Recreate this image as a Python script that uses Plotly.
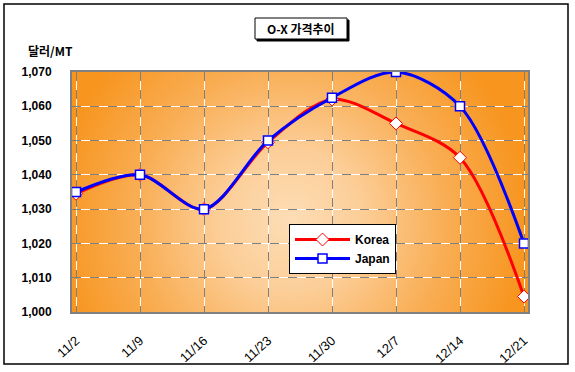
import base64
import plotly.graph_objects as go

categories = ["11/2", "11/9", "11/16", "11/23", "11/30", "12/7", "12/14", "12/21"]
korea = [1034.5, 1040, 1030, 1049.5, 1062, 1055, 1045, 1004.5]
japan = [1035, 1040, 1030, 1050, 1062.5, 1070, 1060, 1020]
y_ticks = [1000, 1010, 1020, 1030, 1040, 1050, 1060, 1070]
y_tick_labels = ["1,000", "1,010", "1,020", "1,030", "1,040", "1,050", "1,060", "1,070"]

W, H = 575, 372
L, R, T, B = 72, 528, 72, 312
PW, PH = R - L, B - T

def px(x):
    return (x - L) / PW

def py(y):
    return (B - y) / PH

svg = f'''<svg xmlns="http://www.w3.org/2000/svg" width="{PW}" height="{PH}" viewBox="0 0 {PW} {PH}" preserveAspectRatio="none">
<defs><radialGradient id="g" gradientUnits="userSpaceOnUse" cx="{PW*0.48}" cy="{PH*0.62}" r="{PW*0.52}">
<stop offset="0" stop-color="#FDDDB6"/><stop offset="0.3" stop-color="#FCCE98"/><stop offset="0.65" stop-color="#F9AE55"/><stop offset="1" stop-color="#F7951F"/>
</radialGradient></defs><rect width="{PW}" height="{PH}" fill="url(#g)"/></svg>'''
bg_src = "data:image/svg+xml;base64," + base64.b64encode(svg.encode()).decode()

x_idx = list(range(len(categories)))
fig = go.Figure()
fig.add_trace(go.Scatter(
    x=x_idx, y=korea, name="Korea", mode="lines+markers",
    line=dict(color="#FF0000", width=3, shape="spline", smoothing=0.9),
    marker=dict(symbol="diamond", size=10, color="white", line=dict(color="#FF0000", width=1)),
))
fig.add_trace(go.Scatter(
    x=x_idx, y=japan, name="Japan", mode="lines+markers",
    line=dict(color="#0000FF", width=3, shape="spline", smoothing=0.9),
    marker=dict(symbol="square", size=9, color="white", line=dict(color="#0000FF", width=1.5)),
))

font_lat = "Liberation Sans, Arial, sans-serif"
font_kr = "Noto Sans CJK KR, sans-serif"

fig.update_layout(
    width=W, height=H,
    margin=dict(l=L, r=W - R, t=T, b=H - B, autoexpand=False),
    paper_bgcolor="white", plot_bgcolor="#F7941E",
    showlegend=True,
    legend=dict(
        x=px(289), y=py(224), xanchor="left", yanchor="top",
        bgcolor="white", bordercolor="black", borderwidth=1,
        font=dict(family=font_lat, size=12, color="black", weight="bold"),
        tracegroupgap=0, itemwidth=55,
    ),
    images=[dict(source=bg_src, xref="paper", yref="paper", x=0, y=1, sizex=1, sizey=1,
                 sizing="stretch", layer="below", xanchor="left", yanchor="top")],
    xaxis=dict(
        tickmode="array", tickvals=x_idx, ticktext=categories,
        range=[-0.0625, 7.0625], tickangle=-42, automargin=False,
        showgrid=True, gridcolor="#7F7F7F", griddash="dash", gridwidth=1,
        minor=dict(tickmode="array", tickvals=x_idx, showgrid=True, gridcolor="white", griddash="solid", gridwidth=1, ticks=""),
        showline=True, linecolor="#808080", linewidth=2, mirror=True,
        ticks="", ticklabelstandoff=14,
        tickfont=dict(family=font_lat, size=13, color="black"),
        zeroline=False,
    ),
    yaxis=dict(
        tickmode="array", tickvals=y_ticks, ticktext=y_tick_labels,
        range=[1000, 1070], automargin=False,
        showgrid=True, gridcolor="#7F7F7F", griddash="dash", gridwidth=1,
        minor=dict(tickmode="array", tickvals=y_ticks, showgrid=True, gridcolor="white", griddash="solid", gridwidth=1, ticks=""),
        showline=True, linecolor="#808080", linewidth=2, mirror=True,
        ticks="", ticklabelstandoff=16,
        tickfont=dict(family=font_lat, size=12, color="black", weight="bold"),
        zeroline=False,
    ),
    shapes=[
        dict(type="rect", xref="paper", yref="paper", x0=px(4), x1=px(568), y0=py(364), y1=py(4),
             line=dict(color="black", width=1.5), fillcolor="rgba(0,0,0,0)", layer="below"),
        dict(type="rect", xref="paper", yref="paper", x0=px(257), x1=px(349), y0=py(41), y1=py(20),
             line=dict(color="black", width=1), fillcolor="black", layer="above"),
        dict(type="rect", xref="paper", yref="paper", x0=px(255), x1=px(347), y0=py(39), y1=py(18),
             line=dict(color="black", width=1), fillcolor="white", layer="above"),
    ],
    annotations=[
        dict(text="O-X 가격추이", xref="paper", yref="paper", x=px(301), y=py(29),
             xanchor="center", yanchor="middle", showarrow=False,
             font=dict(family=font_kr, size=12, color="black", weight="bold")),
        dict(text="달러/MT", xref="paper", yref="paper", x=px(26), y=py(50),
             xanchor="left", yanchor="middle", showarrow=False,
             font=dict(family=font_kr, size=12, color="black", weight="bold")),
    ],
)

fig.write_html("out.html", config={"displayModeBar": False},
               post_script="document.body.style.margin='0';document.body.style.overflow='hidden';")
